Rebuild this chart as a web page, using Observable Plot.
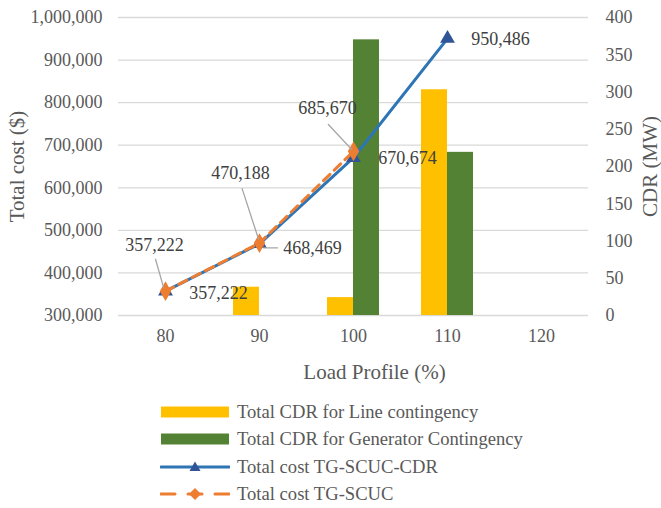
<!DOCTYPE html>
<html><head><meta charset="utf-8">
<script src="https://cdn.jsdelivr.net/npm/d3@7"></script>
<script src="https://cdn.jsdelivr.net/npm/@observablehq/plot@0.6"></script>
<style>
body{margin:0;background:#fff;font-family:"Liberation Serif","Times New Roman",serif;}
#wrap{position:relative;width:661px;height:508px;}
#legend{position:absolute;left:160px;top:398px;}
.row{display:flex;align-items:center;height:27.5px;font-size:18.6px;color:#595959;white-space:nowrap;}
.row svg{margin-right:7px;flex:none;}
</style></head><body>
<div id="wrap"><div id="chart"></div><div id="legend"></div></div>
<script>
// ---- data ----
const loads = ["80", "90", "100", "110", "120"];
const cdrLine = [0, 38, 24, 303, 0];          // Total CDR for Line contingency (MW)
const cdrGen = [0, 0, 370, 219, 0];           // Total CDR for Generator Contingency (MW)
const costCDR = [357222, 468469, 670674, 950486, null];   // Total cost TG-SCUC-CDR ($)
const costSCUC = [357222, 470188, 685670, null, null];    // Total cost TG-SCUC ($)
const costTicks = [300000, 400000, 500000, 600000, 700000, 800000, 900000, 1000000];
const cdrTicks = [0, 50, 100, 150, 200, 250, 300, 350, 400];
const seriesNames = ["Total CDR for Line contingency", "Total CDR for Generator Contingency", "Total cost TG-SCUC-CDR", "Total cost TG-SCUC"];

// ---- secondary axis mapping (CDR 0..400 onto cost 300k..1M) ----
const c0 = 300000, c1 = 1000000, m1 = 400;
const cdrToCost = v => c0 + v * (c1 - c0) / m1;
const costToCdr = c => Math.round((c - c0) * m1 / (c1 - c0));

const rows = loads.map((l, i) => ({load: l, line: cdrLine[i], gen: cdrGen[i], cdr: costCDR[i], scuc: costSCUC[i]}));
const fmt = d3.format(",");

const BLUE = "#2e75b6", DBLUE = "#2f5597", ORANGE = "#ed7d31", YELLOW = "#ffc000", GREEN = "#548235";
const LBL = "#404040";

const spike = {draw(ctx, l) { ctx.moveTo(0, 0); ctx.lineTo(0, -l); }};
const leader = (data, opts) => Plot.vector(data, {x: "load", anchor: "start", stroke: "#a6a6a6", strokeWidth: 1.3, shape: spike, ...opts});
const label = (data, opts) => Plot.text(data, {x: "load", fill: LBL, fontSize: 18, ...opts});
const title = (t, opts) => Plot.text([t], {textAnchor: "middle", lineAnchor: "middle", fontSize: 21, fill: "#595959", ...opts});

const chart = Plot.plot({
  width: 661, height: 390,
  marginLeft: 118, marginRight: 73, marginTop: 17, marginBottom: 75,
  style: {fontFamily: "'Liberation Serif','Times New Roman',serif", fontSize: "18px", color: "#595959", background: "white", overflow: "visible"},
  x: {domain: loads, padding: 0},
  y: {domain: [c0, c1]},
  marks: [
    Plot.gridY(costTicks, {stroke: "#d9d9d9", strokeOpacity: 1, strokeWidth: 1.3}),
    Plot.axisY(costTicks, {anchor: "left", tickSize: 0, tickPadding: 16, tickFormat: fmt, label: null, fontSize: 18}),
    Plot.axisY(cdrTicks.map(cdrToCost), {anchor: "right", tickSize: 0, tickPadding: 17, tickFormat: costToCdr, label: null, fontSize: 18}),
    Plot.axisX({tickSize: 0, tickPadding: 14, label: null, fontSize: 18}),
    title("Total cost ($)", {frameAnchor: "left", rotate: -90, dx: -101}),
    title("CDR (MW)", {frameAnchor: "right", rotate: -90, dx: 62}),
    title("Load Profile (%)", {frameAnchor: "bottom", dy: 57, dx: 21}),
    Plot.barY(rows.filter(d => d.line > 0), {x: "load", y1: c0, y2: d => cdrToCost(d.line), fill: YELLOW, insetLeft: 21, insetRight: 47}),
    Plot.barY(rows.filter(d => d.gen > 0), {x: "load", y1: c0, y2: d => cdrToCost(d.gen), fill: GREEN, insetLeft: 47, insetRight: 21}),
    Plot.line(rows, {x: "load", y: "cdr", stroke: BLUE, strokeWidth: 3}),
    Plot.dot(rows.filter(d => d.cdr != null), {x: "load", y: "cdr", symbol: "triangle", r: 5.5, fill: DBLUE}),
    Plot.line(rows, {x: "load", y: "scuc", stroke: ORANGE, strokeWidth: 3, strokeDasharray: "9,6"}),
    Plot.dot(rows.filter(d => d.scuc != null), {x: "load", y: "scuc", symbol: "diamond", r: 6, fill: ORANGE}),
    // data labels for TG-SCUC (with leader lines)
    leader([rows[0]], {y: "scuc", dx: -2, dy: -4, length: 29, rotate: -16}),
    label([rows[0]], {y: "scuc", text: d => fmt(d.scuc), dx: -11, dy: -46}),
    leader([rows[1]], {y: "scuc", dx: -1, dy: -4, length: 53, rotate: -18}),
    label([rows[1]], {y: "scuc", text: d => fmt(d.scuc), dx: -19, dy: -70}),
    leader([rows[2]], {y: "scuc", dx: -2, dy: -2, length: 34, rotate: -43}),
    label([rows[2]], {y: "scuc", text: d => fmt(d.scuc), dx: -26, dy: -43}),
    // data labels for TG-SCUC-CDR
    label([rows[0]], {y: "cdr", text: d => fmt(d.cdr), dx: 53, dy: 2}),
    leader([rows[1]], {y: "cdr", dx: 4, dy: 4, length: 14, rotate: 90}),
    label([rows[1]], {y: "cdr", text: d => fmt(d.cdr), dx: 53, dy: 4}),
    label([rows[2]], {y: "cdr", text: d => fmt(d.cdr), dx: 54, dy: 1}),
    label([rows[3]], {y: "cdr", text: d => fmt(d.cdr), dx: 53, dy: 1})
  ]
});
document.getElementById("chart").appendChild(chart);

// ---- legend ----
const swatches = [
  `<svg width="70" height="14"><rect x="1" y="1.5" width="68" height="11" fill="${YELLOW}"/></svg>`,
  `<svg width="70" height="14"><rect x="1" y="1.5" width="68" height="11" fill="${GREEN}"/></svg>`,
  `<svg width="70" height="14"><line x1="1" y1="7" x2="69" y2="7" stroke="${BLUE}" stroke-width="3" stroke-linecap="round"/><path d="M35,1.5L40.5,11L29.5,11Z" fill="${DBLUE}"/></svg>`,
  `<svg width="70" height="14"><line x1="1" y1="7" x2="69" y2="7" stroke="${ORANGE}" stroke-width="3" stroke-dasharray="14,13" stroke-linecap="round"/><path d="M35,1L41,7L35,13L29,7Z" fill="${ORANGE}"/></svg>`
];
document.getElementById("legend").innerHTML = seriesNames.map((n, i) => `<div class="row">${swatches[i]}<span>${n}</span></div>`).join("");
</script>
</body></html>
